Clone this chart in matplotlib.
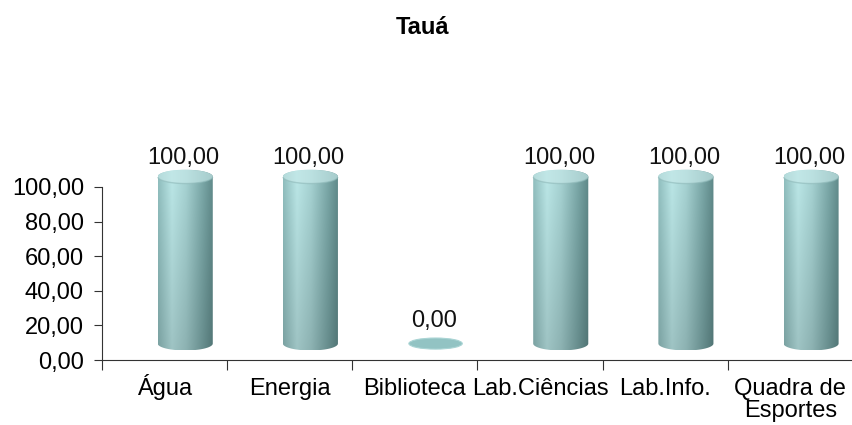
import numpy as np
import matplotlib.pyplot as plt
from matplotlib.patches import Polygon, Ellipse
from matplotlib.colors import to_rgb
from matplotlib.transforms import blended_transform_factory

plt.rcParams['font.family'] = ['Liberation Sans', 'DejaVu Sans']

# data
categories = ['Água', 'Energia', 'Biblioteca', 'Lab.Ciências', 'Lab.Info.', 'Quadra de\nEsportes']
values = [100.0, 100.0, 0.0, 100.0, 100.0, 100.0]
yticks = [0, 20, 40, 60, 80, 100]
title = 'Tauá'

# 3d look settings
shift_x = 0.165    # depth offset to the right (category units)
base = 9.5         # depth offset upward (value units)
depth_scale = 0.965
cyl_w = 0.44
ell_h = 8.0
fs = 17

stops = [0.0, 0.25, 0.5, 0.8, 1.0]
cols = ['#8cb9b9', '#b6e1e1', '#a2cdcd', '#77a3a3', '#5c8585']


def grad_image(nx=200, ny=60, top_bright=1.03, bottom_dark=0.87):
    t = np.linspace(0, 1, nx)
    rgb = np.array([to_rgb(c) for c in cols])
    row = np.stack([np.interp(t, stops, rgb[:, k]) for k in range(3)], axis=-1)
    fade = np.linspace(top_bright, bottom_dark, ny)[:, None, None]
    img = row[None, :, :] * fade
    return np.clip(img, 0, 1)


fig = plt.figure(figsize=(8.53, 4.25), dpi=100)
px_per_val = 1.73
y0_px, ymax_val = 360, 135
ax = fig.add_axes([102 / 853, (425 - y0_px) / 425, 751 / 853, ymax_val * px_per_val / 425])

a = cyl_w / 2
b = ell_h / 2
for i, v in enumerate(values):
    cx = i + shift_x
    if v > 0:
        top = base + v * depth_scale
        th = np.linspace(0, np.pi, 60)
        upper = np.column_stack([cx + a * np.cos(th), top + b * np.sin(th)])
        th2 = np.linspace(np.pi, 2 * np.pi, 60)
        lower = np.column_stack([cx + a * np.cos(th2), base + b * np.sin(th2)])
        poly = Polygon(np.vstack([upper, lower]), closed=True, facecolor='none',
                       edgecolor='none', transform=ax.transData)
        ax.add_patch(poly)
        im = ax.imshow(grad_image(), extent=[cx - a, cx + a, base - b, top + b],
                       aspect='auto', interpolation='bilinear', zorder=2)
        im.set_clip_path(poly)
        # top cap
        cap = Ellipse((cx, top), 2 * a, 2 * b, transform=ax.transData,
                      facecolor='none', edgecolor='none')
        ax.add_patch(cap)
        cap_img = grad_image(ny=20, top_bright=1.0, bottom_dark=1.0) * 0.3 + np.array(to_rgb('#c6e9e9')) * 0.7
        im2 = ax.imshow(np.clip(cap_img, 0, 1), extent=[cx - a, cx + a, top - b, top + b],
                        aspect='auto', interpolation='bilinear', zorder=3)
        im2.set_clip_path(cap)
        rim = np.linspace(np.pi * 1.05, np.pi * 1.95, 40)
        ax.plot(cx + a * np.cos(rim), top + b * np.sin(rim), color='#8fb9b9',
                lw=1.0, alpha=0.6, zorder=3)
        label_y = top + b + 3.5
    else:
        ax.add_patch(Ellipse((cx, base), 2 * a * 0.97, 2 * b * 0.8, facecolor='#92c3c3',
                             edgecolor='#a9d4d4', lw=0.8, zorder=2))
        label_y = base + b + 5.5
    ax.text(i + 0.15, label_y, f'{v:.2f}'.replace('.', ','), ha='center',
            va='baseline', fontsize=fs, color='#111111', zorder=4)

ax.set_xlim(-0.5, len(categories) - 0.5)
ax.set_ylim(0, ymax_val)

for s in ['top', 'right']:
    ax.spines[s].set_visible(False)
ax.spines['left'].set_bounds(0, 100)
ax.spines['left'].set_color('#333333')
ax.spines['bottom'].set_color('#333333')

ax.set_yticks(yticks)
ax.set_yticklabels([f'{t:.2f}'.replace('.', ',') for t in yticks], fontsize=fs)
ax.tick_params(axis='y', length=6, direction='out', pad=7, color='#333333')

ax.set_xticks(np.arange(len(categories) + 1) - 0.5)
ax.set_xticklabels([])
ax.tick_params(axis='x', which='major', length=7, direction='out', color='#333333')

# category labels, one text per line so the first baselines line up
trans = blended_transform_factory(ax.transData, fig.transFigure)
for i, c in enumerate(categories):
    for j, line in enumerate(c.split('\n')):
        ax.text(i, 1 - (395 + 22 * j) / 425, line, transform=trans, ha='center',
                va='baseline', fontsize=fs)

fig.text(422.5 / 853, 1 - 34 / 425, title, ha='center', va='baseline',
         fontsize=fs, fontweight='bold')

fig.savefig('out.png', dpi=100)
